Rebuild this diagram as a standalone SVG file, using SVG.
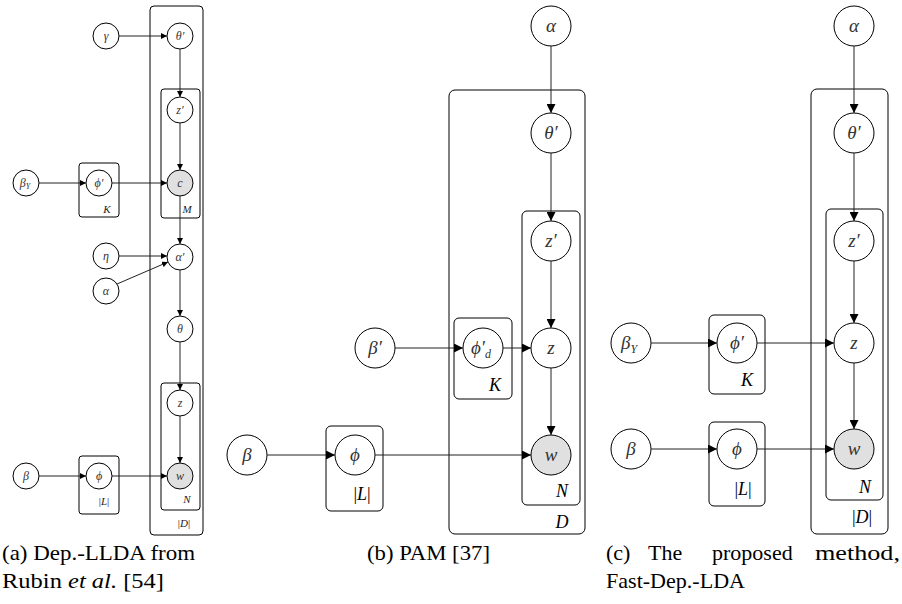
<svg xmlns="http://www.w3.org/2000/svg" width="902" height="604" viewBox="0 0 902 604">
<defs>
<style>
.n{fill:#fff;stroke:#000;stroke-width:1}
.o{fill:#e0e0e0;stroke:#000;stroke-width:1}
.p{fill:none;stroke:#000;stroke-width:1}
.e{fill:none;stroke:#222;stroke-width:1}
.s{font-family:"Liberation Serif",serif;font-style:italic;font-size:12px;fill:#333;text-anchor:middle}
.b{font-family:"Liberation Serif",serif;font-style:italic;font-size:19px;fill:#333;text-anchor:middle}
.ps{font-family:"Liberation Serif",serif;font-style:italic;font-size:11px;fill:#222;text-anchor:middle}
.pb{font-family:"Liberation Serif",serif;font-style:italic;font-size:18px;fill:#000;text-anchor:middle}
.up{font-style:normal}
.cap{font-family:"Liberation Serif",serif;font-size:22px;fill:#000}
</style>
<marker id="as" viewBox="0 0 10 10" refX="10" refY="5" markerWidth="6" markerHeight="6" markerUnits="userSpaceOnUse" orient="auto"><path d="M0,0L10,5L0,10z" fill="#000"/></marker>
<marker id="ab" viewBox="0 0 10 10" refX="10" refY="5" markerWidth="9" markerHeight="9" markerUnits="userSpaceOnUse" orient="auto"><path d="M0,0L10,5L0,10z" fill="#000"/></marker>
</defs>

<!-- Panel (a) plates -->
<g id="a-plate-D"><rect class="p" x="150" y="6" width="53" height="529" rx="4"/><text class="ps" x="184" y="527"><tspan class="up">|</tspan>D<tspan class="up">|</tspan></text></g>
<g id="a-plate-M"><rect class="p" x="161" y="89" width="39" height="129" rx="3"/><text class="ps" x="187" y="213">M</text></g>
<g id="a-plate-N"><rect class="p" x="161" y="383" width="39" height="127" rx="3"/><text class="ps" x="187" y="503">N</text></g>
<g id="a-plate-K"><rect class="p" x="79" y="163" width="40" height="54" rx="3"/><text class="ps" x="107" y="213">K</text></g>
<g id="a-plate-L"><rect class="p" x="79" y="456" width="40" height="58" rx="3"/><text class="ps" x="104" y="505"><tspan class="up">|</tspan>L<tspan class="up">|</tspan></text></g>

<!-- Panel (a) nodes -->
<g id="a-gamma"><circle class="n" cx="106" cy="36" r="13"/><text class="s" x="106" y="40">γ</text></g>
<g id="a-thetap"><circle class="n" cx="180" cy="36" r="13"/><text class="s" x="180" y="40">θ′</text></g>
<g id="a-zp"><circle class="n" cx="180" cy="110" r="13"/><text class="s" x="180" y="114">z′</text></g>
<g id="a-c"><circle class="o" cx="180" cy="183" r="13"/><text class="s" x="180" y="187">c</text></g>
<g id="a-betaY"><circle class="n" cx="26" cy="183" r="13"/><text class="s" x="25" y="187">β<tspan font-size="8" dy="2">Y</tspan></text></g>
<g id="a-phip"><circle class="n" cx="99" cy="183" r="13"/><text class="s" x="99" y="187">ϕ′</text></g>
<g id="a-eta"><circle class="n" cx="106" cy="256" r="13"/><text class="s" x="106" y="260">η</text></g>
<g id="a-alphap"><circle class="n" cx="180" cy="257" r="13"/><text class="s" x="180" y="261">α′</text></g>
<g id="a-alpha"><circle class="n" cx="106" cy="291" r="13"/><text class="s" x="106" y="295">α</text></g>
<g id="a-theta"><circle class="n" cx="180" cy="329" r="13"/><text class="s" x="180" y="333">θ</text></g>
<g id="a-z"><circle class="n" cx="180" cy="403" r="13"/><text class="s" x="180" y="407">z</text></g>
<g id="a-w"><circle class="o" cx="180" cy="476" r="13"/><text class="s" x="180" y="480">w</text></g>
<g id="a-beta"><circle class="n" cx="26" cy="476" r="13"/><text class="s" x="26" y="480">β</text></g>
<g id="a-phi"><circle class="n" cx="99" cy="476" r="13"/><text class="s" x="99" y="480">ϕ</text></g>

<!-- Panel (b) plates -->
<g id="b-plate-D"><rect class="p" x="449" y="90" width="136" height="444" rx="6"/><text class="pb" x="562" y="528">D</text></g>
<g id="b-plate-N"><rect class="p" x="522" y="211" width="58" height="294" rx="5"/><text class="pb" x="562" y="497">N</text></g>
<g id="b-plate-K"><rect class="p" x="454" y="318" width="58" height="81" rx="5"/><text class="pb" x="495" y="391">K</text></g>
<g id="b-plate-L"><rect class="p" x="326" y="426" width="57" height="85" rx="5"/><text class="pb" x="362" y="500"><tspan class="up">|</tspan>L<tspan class="up">|</tspan></text></g>

<!-- Panel (b) nodes -->
<g id="b-alpha"><circle class="n" cx="551" cy="26" r="20"/><text class="b" x="551" y="32">α</text></g>
<g id="b-thetap"><circle class="n" cx="551" cy="133" r="20"/><text class="b" x="551" y="139">θ′</text></g>
<g id="b-zp"><circle class="n" cx="551" cy="241" r="20"/><text class="b" x="551" y="247">z′</text></g>
<g id="b-z"><circle class="n" cx="551" cy="348" r="20"/><text class="b" x="551" y="354">z</text></g>
<g id="b-w"><circle class="o" cx="551" cy="455" r="20"/><text class="b" x="551" y="461">w</text></g>
<g id="b-betap"><circle class="n" cx="375" cy="348" r="20"/><text class="b" x="375" y="354">β′</text></g>
<g id="b-phipd"><circle class="n" cx="483" cy="348" r="20"/><text class="b" x="481" y="354">ϕ′<tspan font-size="12" dx="0" dy="4">d</tspan></text></g>
<g id="b-beta"><circle class="n" cx="247" cy="455" r="20"/><text class="b" x="247" y="461">β</text></g>
<g id="b-phi"><circle class="n" cx="355" cy="455" r="20"/><text class="b" x="355" y="461">ϕ</text></g>

<!-- Panel (c) plates -->
<g id="c-plate-D"><rect class="p" x="811" y="89" width="77" height="445" rx="6"/><text class="pb" x="862" y="523"><tspan class="up">|</tspan>D<tspan class="up">|</tspan></text></g>
<g id="c-plate-N"><rect class="p" x="826" y="209" width="57" height="291" rx="5"/><text class="pb" x="865" y="493">N</text></g>
<g id="c-plate-K"><rect class="p" x="709" y="315" width="56" height="79" rx="5"/><text class="pb" x="747" y="386">K</text></g>
<g id="c-plate-L"><rect class="p" x="709" y="422" width="56" height="84" rx="5"/><text class="pb" x="743" y="495"><tspan class="up">|</tspan>L<tspan class="up">|</tspan></text></g>

<!-- Panel (c) nodes -->
<g id="c-alpha"><circle class="n" cx="854" cy="26" r="20"/><text class="b" x="854" y="32">α</text></g>
<g id="c-thetap"><circle class="n" cx="854" cy="133" r="20"/><text class="b" x="854" y="139">θ′</text></g>
<g id="c-zp"><circle class="n" cx="854" cy="241" r="20"/><text class="b" x="854" y="247">z′</text></g>
<g id="c-z"><circle class="n" cx="854" cy="343" r="20"/><text class="b" x="854" y="349">z</text></g>
<g id="c-w"><circle class="o" cx="854" cy="449" r="20"/><text class="b" x="854" y="455">w</text></g>
<g id="c-betaY"><circle class="n" cx="631" cy="343" r="20"/><text class="b" x="629" y="349">β<tspan font-size="12" dy="4">Y</tspan></text></g>
<g id="c-phip"><circle class="n" cx="737" cy="343" r="20"/><text class="b" x="737" y="349">ϕ′</text></g>
<g id="c-beta"><circle class="n" cx="631" cy="449" r="20"/><text class="b" x="631" y="455">β</text></g>
<g id="c-phi"><circle class="n" cx="737" cy="449" r="20"/><text class="b" x="737" y="455">ϕ</text></g>

<!-- Connectors -->
<g id="connectors">
<line class="e" x1="119" y1="36" x2="167" y2="36" marker-end="url(#as)"/>
<line class="e" x1="180" y1="49" x2="180" y2="97" marker-end="url(#as)"/>
<line class="e" x1="180" y1="123" x2="180" y2="170" marker-end="url(#as)"/>
<line class="e" x1="39" y1="183" x2="86" y2="183" marker-end="url(#as)"/>
<line class="e" x1="112" y1="183" x2="167" y2="183" marker-end="url(#as)"/>
<line class="e" x1="180" y1="196" x2="180" y2="244" marker-end="url(#as)"/>
<line class="e" x1="119" y1="256" x2="167" y2="256" marker-end="url(#as)"/>
<line class="e" x1="117" y1="284" x2="168" y2="262" marker-end="url(#as)"/>
<line class="e" x1="180" y1="270" x2="180" y2="316" marker-end="url(#as)"/>
<line class="e" x1="180" y1="342" x2="180" y2="390" marker-end="url(#as)"/>
<line class="e" x1="180" y1="416" x2="180" y2="463" marker-end="url(#as)"/>
<line class="e" x1="39" y1="476" x2="86" y2="476" marker-end="url(#as)"/>
<line class="e" x1="112" y1="476" x2="167" y2="476" marker-end="url(#as)"/>

<line class="e" x1="551" y1="46" x2="551" y2="113" marker-end="url(#ab)"/>
<line class="e" x1="551" y1="153" x2="551" y2="221" marker-end="url(#ab)"/>
<line class="e" x1="551" y1="261" x2="551" y2="328" marker-end="url(#ab)"/>
<line class="e" x1="395" y1="348" x2="463" y2="348" marker-end="url(#ab)"/>
<line class="e" x1="503" y1="348" x2="531" y2="348" marker-end="url(#ab)"/>
<line class="e" x1="551" y1="368" x2="551" y2="435" marker-end="url(#ab)"/>
<line class="e" x1="267" y1="455" x2="335" y2="455" marker-end="url(#ab)"/>
<line class="e" x1="375" y1="455" x2="531" y2="455" marker-end="url(#ab)"/>

<line class="e" x1="854" y1="46" x2="854" y2="113" marker-end="url(#ab)"/>
<line class="e" x1="854" y1="153" x2="854" y2="221" marker-end="url(#ab)"/>
<line class="e" x1="854" y1="261" x2="854" y2="323" marker-end="url(#ab)"/>
<line class="e" x1="651" y1="343" x2="717" y2="343" marker-end="url(#ab)"/>
<line class="e" x1="757" y1="343" x2="834" y2="343" marker-end="url(#ab)"/>
<line class="e" x1="854" y1="363" x2="854" y2="429" marker-end="url(#ab)"/>
<line class="e" x1="651" y1="449" x2="717" y2="449" marker-end="url(#ab)"/>
<line class="e" x1="757" y1="449" x2="834" y2="449" marker-end="url(#ab)"/>
</g>

<!-- Captions -->
<g id="captions">
<text class="cap" x="2" y="560" textLength="193" lengthAdjust="spacingAndGlyphs">(a) Dep.-LLDA from</text>
<text class="cap" x="2" y="588" textLength="162" lengthAdjust="spacingAndGlyphs">Rubin <tspan font-style="italic">et al.</tspan> [54]</text>
<text class="cap" x="367" y="560" textLength="123" lengthAdjust="spacingAndGlyphs">(b) PAM [37]</text>
<text class="cap" y="560"><tspan x="606">(c)</tspan><tspan x="648">The</tspan><tspan x="712">proposed</tspan><tspan x="815" textLength="85" lengthAdjust="spacingAndGlyphs">method,</tspan></text>
<text class="cap" x="606" y="588" textLength="139" lengthAdjust="spacingAndGlyphs">Fast-Dep.-LDA</text>
</g>
</svg>
